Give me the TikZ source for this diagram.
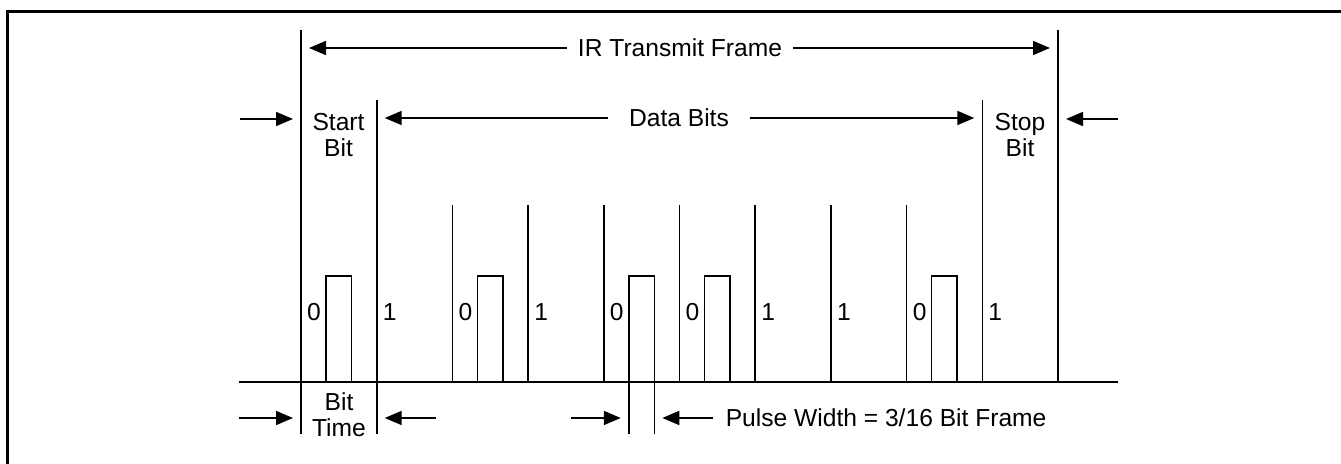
\documentclass[tikz,border=0pt]{standalone}
\usepackage{fontspec}
\setmainfont{Liberation Sans}
\usetikzlibrary{arrows.meta}

\begin{document}
\begin{tikzpicture}[x=0.5pt, y=-0.5pt, line width=0.8pt,
  font=\fontsize{12.3pt}{12.8pt}\selectfont,
  lbl/.style={inner sep=0pt, align=center},
  bit/.style={inner sep=0pt},
  arr/.style={-{Triangle[length=8.5pt, width=7pt]}, shorten >=4pt}]
\useasboundingbox (0,0) rectangle (1341,464);
\draw[line width=1.5pt] (7,464) -- (7,12) -- (1341,12);

% frame and bit edges
\coordinate (base) at (0,382);
\coordinate (bot) at (0,434);
\coordinate (fl) at (301,30);
\coordinate (sb) at (376.7,100);
\coordinate (db) at (982.3,100);
\coordinate (fr) at (1058,30);
\coordinate (pl) at (628.8,276);
\coordinate (pr) at (654.3,276);
\draw (fl) -- (fl |- bot);
\draw (sb) -- (sb |- bot);
\draw (db) -- (db |- base);
\draw (fr) -- (fr |- base);
\draw (452.4,205) -- (452.4,382) (528.1,205) -- (528.1,382)
      (603.8,205) -- (603.8,382) (679.5,205) -- (679.5,382)
      (755.2,205) -- (755.2,382) (830.9,205) -- (830.9,382)
      (906.6,205) -- (906.6,382);
\draw (239,382) -- (1118,382);

% pulses
\draw (326,382) -- (326,276) -- (351.5,276) -- (351.5,382);
\draw (477.4,382) -- (477.4,276) -- (502.9,276) -- (502.9,382);
\draw (pl |- bot) -- (pl) -- (pr) -- (pr |- bot);
\draw (704.5,382) -- (704.5,276) -- (730,276) -- (730,382);
\draw (931.6,382) -- (931.6,276) -- (957.1,276) -- (957.1,382);

% bit values
\node[bit] (v0) at (314,312) {0};
\node[bit] (v1) at (389.7,312) {1};
\node[bit] (v2) at (465.4,312) {0};
\node[bit] (v3) at (541.1,312) {1};
\node[bit] (v4) at (616.8,312) {0};
\node[bit] (v5) at (692.5,312) {0};
\node[bit] (v6) at (768.2,312) {1};
\node[bit] (v7) at (843.9,312) {1};
\node[bit] (v8) at (919.6,312) {0};
\node[bit] (v9) at (995.3,312) {1};

% labels
\node[lbl, inner xsep=5pt] (irt) at (680,48) {IR Transmit Frame};
\node[lbl, inner xsep=10pt] (dbt) at (679,118) {Data Bits};
\node[lbl] (start) at (338.5,135) {Start\\Bit};
\node[lbl] (stop) at (1020,135) {Stop\\Bit};
\node[lbl] (btime) at (339,415) {Bit\\Time};
\node[lbl, anchor=west, inner xsep=6pt] (pw) at (713,418) {Pulse Width = 3/16 Bit Frame};

% dimension arrows
\coordinate (inl) at (240,119);
\coordinate (inr) at (1118,119);
\coordinate (btl) at (239,418);
\coordinate (btr) at (436,418);
\coordinate (pwl) at (571,418);
\draw[arr] (irt) -- (irt -| fl);
\draw[arr] (irt) -- (irt -| fr);
\draw[arr] (dbt) -- (dbt -| sb);
\draw[arr] (dbt) -- (dbt -| db);
\draw[arr] (inl) -- (inl -| fl);
\draw[arr] (inr) -- (inr -| fr);
\draw[arr] (btl) -- (btl -| fl);
\draw[arr] (btr) -- (btr -| sb);
\draw[arr] (pwl) -- (pwl -| pl);
\draw[arr] (pw.west) -- (pw.west -| pr);
\end{tikzpicture}
\end{document}
